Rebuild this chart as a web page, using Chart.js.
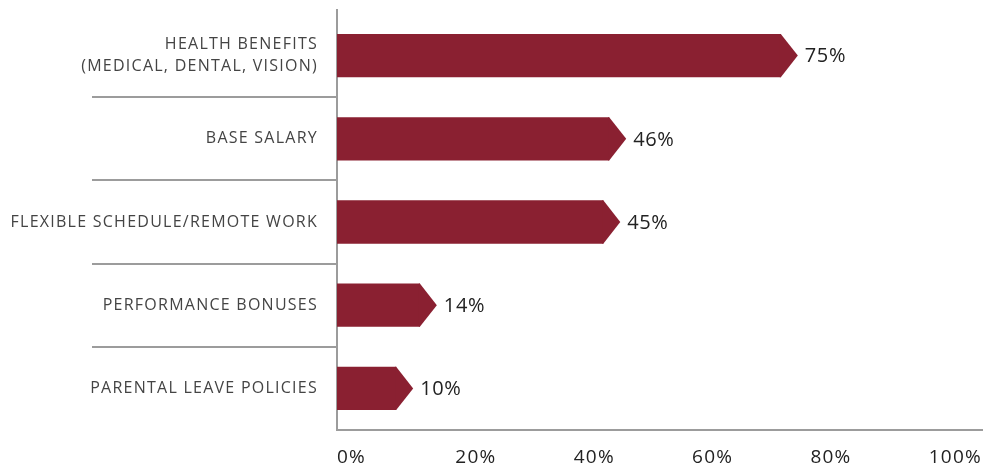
<!DOCTYPE html>
<html>
<head>
<meta charset="utf-8">
<script src="https://cdn.jsdelivr.net/npm/chart.js@4.4.1/dist/chart.umd.min.js"></script>
<style>
  html, body { margin: 0; padding: 0; background: #ffffff; }
  canvas { display: block; }
</style>
</head>
<body>
<canvas id="graphique" width="983" height="467"></canvas>
<script>
const categories = [
    ['HEALTH BENEFITS', '(MEDICAL, DENTAL, VISION)'],
    'BASE SALARY',
    'FLEXIBLE SCHEDULE/REMOTE WORK',
    'PERFORMANCE BONUSES',
    'PARENTAL LEAVE POLICIES'
];
const valeurs = [75, 46, 45, 14, 10];
const graduations = [0, 20, 40, 60, 80, 100];

const ROUGE = '#8a2031';
const GRIS = '#9c9c9c';
const POLICE = "'Open Sans', sans-serif";

// Espacement des lettres pour les libellés des axes
const espacement = {
    id: 'espacement',
    beforeDraw(chart) { chart.ctx.letterSpacing = '1.25px'; }
};

// Pointe de flèche au bout de chaque barre + valeur en texte
const pointesFleches = {
    id: 'pointesFleches',
    afterDatasetsDraw(chart) {
        let ctx = chart.ctx;
        let meta = chart.getDatasetMeta(0);
        ctx.save();
        ctx.letterSpacing = '0.6px';
        meta.data.forEach(function (barre, i) {
            let p = barre.getProps(['x', 'y', 'height'], true);
            let demi = p.height / 2;
            let pointe = 17;
            ctx.fillStyle = ROUGE;
            ctx.beginPath();
            ctx.moveTo(p.x - 1, p.y - demi);
            ctx.lineTo(p.x, p.y - demi);
            ctx.lineTo(p.x + pointe, p.y);
            ctx.lineTo(p.x, p.y + demi);
            ctx.lineTo(p.x - 1, p.y + demi);
            ctx.closePath();
            ctx.fill();

            ctx.fillStyle = '#222222';
            ctx.font = '500 20px ' + POLICE;
            ctx.textAlign = 'left';
            ctx.textBaseline = 'middle';
            ctx.fillText(valeurs[i] + '%', p.x + pointe + 7, p.y + 1);
        });
        // le trait vertical dépasse un peu au-dessus des barres
        let gauche = chart.chartArea.left;
        ctx.strokeStyle = GRIS;
        ctx.lineWidth = 2;
        ctx.beginPath();
        ctx.moveTo(gauche, chart.chartArea.top - 5);
        ctx.lineTo(gauche, chart.chartArea.top);
        ctx.stroke();
        ctx.restore();
    }
};

new Chart(document.getElementById('graphique'), {
    type: 'bar',
    data: {
        labels: categories,
        datasets: [{
            data: valeurs,
            backgroundColor: ROUGE,
            borderWidth: 0,
            barPercentage: 0.52,
            categoryPercentage: 1
        }]
    },
    options: {
        indexAxis: 'y',
        responsive: false,
        animation: false,
        layout: { padding: { top: 14, right: 1, bottom: 0, left: 0 } },
        plugins: { legend: { display: false }, tooltip: { enabled: false } },
        scales: {
            x: {
                min: 0,
                max: 109,
                afterBuildTicks: function (axe) {
                    axe.ticks = graduations.map(function (v) { return { value: v }; });
                },
                afterFit: function (axe) {
                    axe.height = 37;
                    axe.paddingLeft = 0;
                    axe.paddingRight = 0;
                },
                grid: { display: false, drawTicks: false },
                border: { color: GRIS, width: 2 },
                ticks: {
                    align: 'start',
                    padding: 16,
                    color: '#222222',
                    font: { family: POLICE, size: 19, weight: '500' },
                    callback: function (v) { return v + '%'; }
                }
            },
            y: {
                afterFit: function (axe) {
                    axe.width = 337;
                    axe.paddingTop = 0;
                    axe.paddingBottom = 0;
                },
                grid: {
                    offset: true,
                    drawOnChartArea: false,
                    drawTicks: true,
                    tickLength: 245,
                    lineWidth: 2,
                    color: function (c) {
                        return (c.index > 0 && c.index < categories.length) ? GRIS : 'rgba(0,0,0,0)';
                    }
                },
                border: { color: GRIS, width: 2 },
                ticks: {
                    padding: -226,
                    color: '#444444',
                    font: { family: POLICE, size: 16, lineHeight: 1.35 }
                }
            }
        }
    },
    plugins: [espacement, pointesFleches]
});
</script>
</body>
</html>
